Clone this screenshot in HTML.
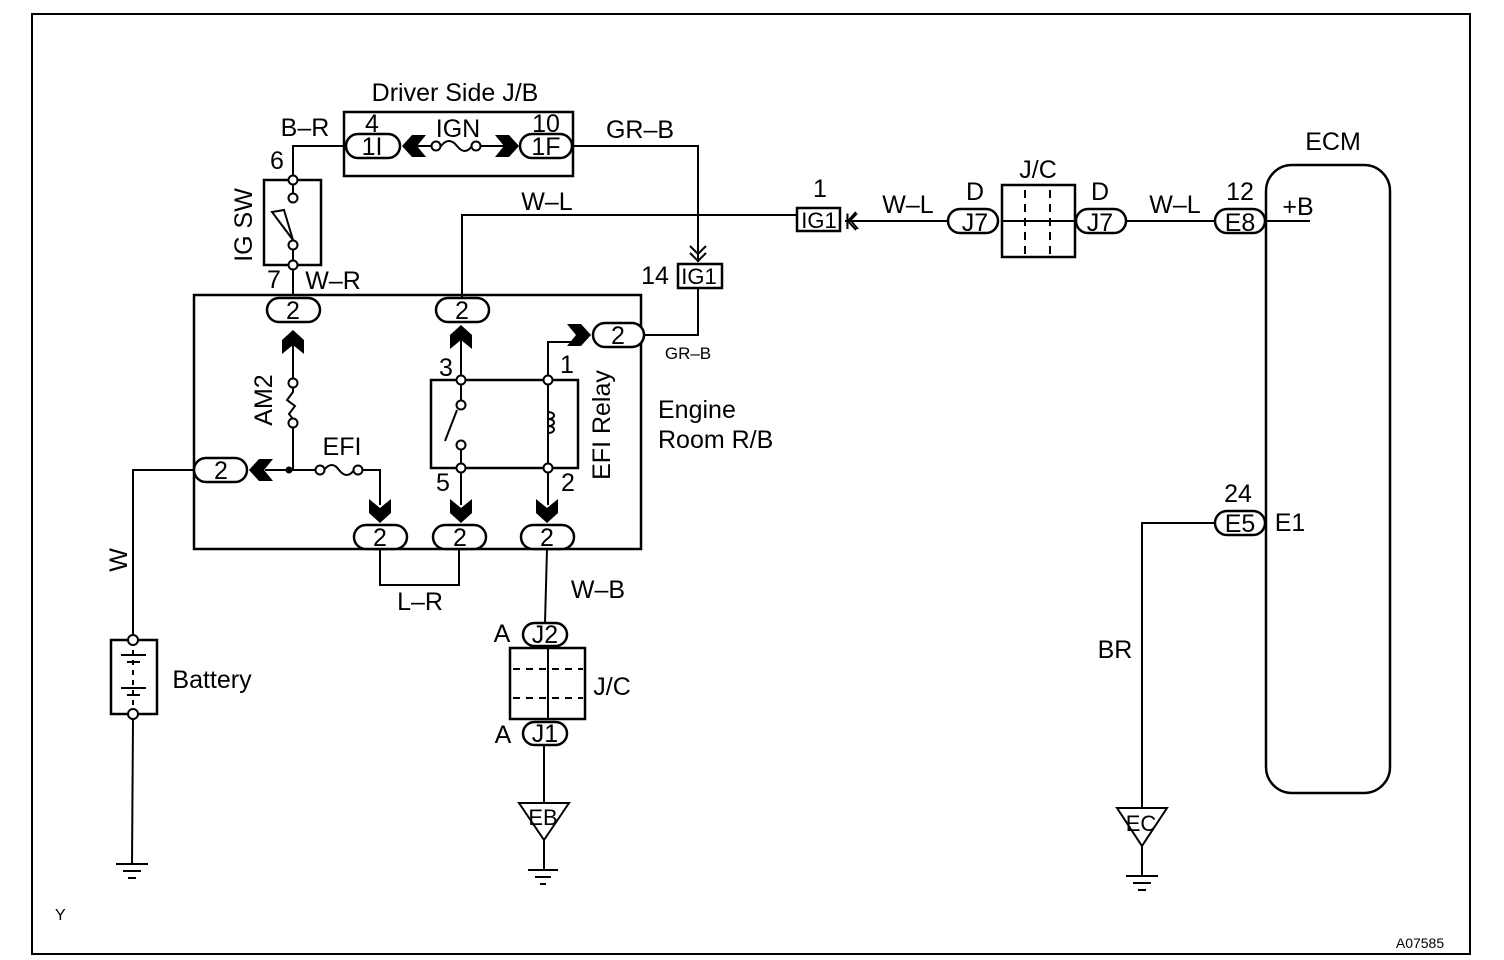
<!DOCTYPE html>
<html><head><meta charset="utf-8"><style>
html,body{margin:0;padding:0;background:#fff}
svg{display:block}
text{font-family:"Liberation Sans",Arial,sans-serif;fill:#000}
</style></head><body>
<svg width="1504" height="960" viewBox="0 0 1504 960" xmlns="http://www.w3.org/2000/svg">
<defs>
<g id="chu"><polygon points="-11,10 0,0 11,10 11,24 0,15 -11,24" fill="#000"/></g>
</defs>
<rect x="32" y="14" width="1438" height="940" fill="none" stroke="#000" stroke-width="2"/>
<g stroke="#000" stroke-width="2" fill="none">
<rect x="344" y="112" width="229" height="64" stroke-width="2.5"/>
<rect x="346" y="134" width="54" height="24" rx="12" fill="#fff" stroke-width="2.5"/>
<rect x="520" y="134" width="52" height="24" rx="12" fill="#fff" stroke-width="2.5"/>
<line x1="410" y1="146" x2="431" y2="146"/>
<path d="M441,146 q8,-10 16,0 q8,10 15,0"/>
<line x1="481" y1="146" x2="505" y2="146"/>
<circle cx="436" cy="146" r="4.5" fill="#fff"/><circle cx="476" cy="146" r="4.5" fill="#fff"/>
<polyline points="345,146 293,146 293,180"/>
<rect x="264" y="180" width="57" height="85" stroke-width="2.5"/>
<line x1="293" y1="180" x2="293" y2="198"/>
<line x1="293" y1="245" x2="293" y2="295"/>
<path d="M272,212 L284,210 L293,240 Z"/>
<circle cx="293" cy="180" r="4.5" fill="#fff"/><circle cx="293" cy="198" r="4.5" fill="#fff"/>
<circle cx="293" cy="245" r="4.5" fill="#fff"/><circle cx="293" cy="265" r="4.5" fill="#fff"/>
<rect x="194" y="295" width="447" height="254" stroke-width="2.5"/>
<line x1="293" y1="340" x2="293" y2="383"/>
<path d="M293,388 l0,4 l-6,8 l8,6 l-6,8 l4,5"/>
<line x1="293" y1="423" x2="293" y2="470"/>
<circle cx="293" cy="383" r="4.5" fill="#fff"/><circle cx="293" cy="423" r="4.5" fill="#fff"/>
<line x1="265" y1="470" x2="316" y2="470"/>
<path d="M324,470 q8,-10 15,0 q8,10 15,0"/>
<polyline points="362,470 380,470 380,505"/>
<circle cx="289" cy="470" r="2.5" fill="#000"/>
<circle cx="320" cy="470" r="4.5" fill="#fff"/><circle cx="358" cy="470" r="4.5" fill="#fff"/>
<rect x="431" y="380" width="147" height="88" stroke-width="2.5"/>
<line x1="461" y1="340" x2="461" y2="402"/>
<line x1="457" y1="410" x2="445" y2="441"/>
<line x1="461" y1="445" x2="461" y2="505"/>
<polyline points="548,505 548,342 575,342"/>
<path d="M548,412 c8,0 8,7 0,7 c8,0 8,7 0,7 c8,0 8,7 0,7"/>
<circle cx="461" cy="380" r="4.5" fill="#fff"/><circle cx="548" cy="380" r="4.5" fill="#fff"/>
<circle cx="461" cy="405" r="4.5" fill="#fff"/><circle cx="461" cy="445" r="4.5" fill="#fff"/>
<circle cx="461" cy="468" r="4.5" fill="#fff"/><circle cx="548" cy="468" r="4.5" fill="#fff"/>
<polyline points="462,298 462,215 797,215"/>
<line x1="845" y1="221" x2="948" y2="221"/>
<path d="M856,212 l-8,9 l8,9"/>
<polyline points="573,146 698,146 698,262"/>
<path d="M690,246 l8,8 l8,-8 M690,253 l8,8 l8,-8"/>
<rect x="678" y="264" width="44" height="24" stroke-width="2.5"/>
<polyline points="698,288 698,335 644,335"/>
<g stroke-width="2.5">
<rect x="267" y="298" width="53" height="24" rx="12" fill="#fff"/>
<rect x="436" y="298" width="53" height="24" rx="12" fill="#fff"/>
<rect x="593" y="323" width="51" height="24" rx="12" fill="#fff"/>
<rect x="194" y="458" width="53" height="24" rx="12" fill="#fff"/>
<rect x="354" y="525" width="53" height="24" rx="12" fill="#fff"/>
<rect x="433" y="525" width="53" height="24" rx="12" fill="#fff"/>
<rect x="521" y="525" width="53" height="24" rx="12" fill="#fff"/>
</g>
<polyline points="380,549 380,585 459,585 459,549"/>
<line x1="547" y1="549" x2="545" y2="623"/>
<rect x="523" y="623" width="44" height="23" rx="11.5" fill="#fff" stroke-width="2.5"/>
<rect x="510" y="648" width="75" height="71" stroke-width="2.5"/>
<line x1="548" y1="648" x2="548" y2="719"/>
<line x1="513" y1="669" x2="583" y2="669" stroke-dasharray="7,6"/>
<line x1="513" y1="698" x2="583" y2="698" stroke-dasharray="7,6"/>
<rect x="523" y="722" width="44" height="23" rx="11.5" fill="#fff" stroke-width="2.5"/>
<line x1="544" y1="745" x2="544" y2="803"/>
<polygon points="519,803 569,803 544,840"/>
<line x1="544" y1="840" x2="544" y2="870"/>
<line x1="528" y1="870" x2="558" y2="870"/><line x1="535" y1="877" x2="551" y2="877"/><line x1="540" y1="884" x2="546" y2="884"/>
<polyline points="194,470 133,470 133,636"/>
<rect x="111" y="640" width="46" height="74" stroke-width="2.5"/>
<line x1="133" y1="640" x2="133" y2="714" stroke-dasharray="5,5"/>
<line x1="121" y1="655" x2="146" y2="655"/><line x1="127" y1="662" x2="140" y2="662"/>
<line x1="121" y1="688" x2="146" y2="688"/><line x1="127" y1="695" x2="140" y2="695"/>
<circle cx="133" cy="640" r="5" fill="#fff"/><circle cx="133" cy="714" r="5" fill="#fff"/>
<line x1="133" y1="719" x2="132" y2="864"/>
<line x1="116" y1="864" x2="148" y2="864"/><line x1="123" y1="871" x2="141" y2="871"/><line x1="128" y1="878" x2="136" y2="878"/>
<rect x="797" y="208" width="43" height="23" stroke-width="2.5"/>
<rect x="948" y="209" width="50" height="24" rx="12" fill="#fff" stroke-width="2.5"/>
<rect x="1002" y="185" width="73" height="72" stroke-width="2.5"/>
<line x1="1002" y1="221" x2="1075" y2="221"/>
<line x1="1025" y1="190" x2="1025" y2="254" stroke-dasharray="8,6"/>
<line x1="1050" y1="190" x2="1050" y2="254" stroke-dasharray="8,6"/>
<rect x="1076" y="209" width="50" height="24" rx="12" fill="#fff" stroke-width="2.5"/>
<line x1="1126" y1="221" x2="1215" y2="221"/>
<rect x="1215" y="209" width="50" height="24" rx="12" fill="#fff" stroke-width="2.5"/>
<rect x="1266" y="165" width="124" height="628" rx="26" stroke-width="2.5"/>
<line x1="1266" y1="221" x2="1310" y2="221"/>
<rect x="1215" y="511" width="50" height="24" rx="12" fill="#fff" stroke-width="2.5"/>
<polyline points="1215,523 1142,523 1142,808"/>
<polygon points="1117,808 1167,808 1142,846"/>
<line x1="1142" y1="846" x2="1142" y2="876"/>
<line x1="1126" y1="876" x2="1158" y2="876"/><line x1="1133" y1="883" x2="1151" y2="883"/><line x1="1138" y1="890" x2="1146" y2="890"/>
</g>
<use href="#chu" transform="translate(293,330)"/>
<use href="#chu" transform="translate(461,325)"/>
<use href="#chu" transform="translate(380,523) rotate(180)"/>
<use href="#chu" transform="translate(461,523) rotate(180)"/>
<use href="#chu" transform="translate(547,523) rotate(180)"/>
<use href="#chu" transform="translate(249,470) rotate(-90)"/>
<use href="#chu" transform="translate(402,146) rotate(-90)"/>
<use href="#chu" transform="translate(519,146) rotate(90)"/>
<use href="#chu" transform="translate(591,335) rotate(90)"/>
<g font-size="25" text-anchor="middle">
<text x="455" y="101">Driver Side J/B</text>
<text x="372" y="132">4</text><text x="546" y="132">10</text>
<text x="458" y="137">IGN</text>
<text x="372" y="155">1I</text><text x="546" y="155">1F</text>
<text x="305" y="136">B–R</text>
<text x="640" y="138">GR–B</text>
<text x="277" y="169">6</text><text x="274" y="288">7</text>
<text x="333" y="289">W–R</text>
<text x="547" y="210">W–L</text>
<text x="293" y="319">2</text><text x="462" y="319">2</text><text x="618" y="344">2</text>
<text x="221" y="479">2</text><text x="380" y="546">2</text><text x="460" y="546">2</text><text x="547" y="546">2</text>
<text x="342" y="455">EFI</text>
<text x="446" y="376">3</text><text x="567" y="373">1</text>
<text x="443" y="491">5</text><text x="568" y="491">2</text>
<text x="420" y="610">L–R</text><text x="598" y="598">W–B</text>
<text x="502" y="642">A</text><text x="503" y="743">A</text>
<text x="545" y="643">J2</text><text x="545" y="742">J1</text>
<text x="612" y="695">J/C</text>
<text x="212" y="688">Battery</text>
<text x="655" y="284">14</text>
<text x="820" y="197">1</text>
<text x="908" y="213">W–L</text>
<text x="975" y="200">D</text><text x="1100" y="200">D</text>
<text x="975" y="231">J7</text><text x="1100" y="231">J7</text>
<text x="1038" y="178">J/C</text>
<text x="1175" y="213">W–L</text>
<text x="1240" y="200">12</text><text x="1240" y="231">E8</text>
<text x="1333" y="150">ECM</text>
<text x="1298" y="215">+B</text>
<text x="1238" y="502">24</text><text x="1240" y="532">E5</text>
<text x="1290" y="531">E1</text>
<text x="1115" y="658">BR</text>
</g>
<g font-size="22" text-anchor="middle">
<text x="699" y="284">IG1</text>
<text x="819" y="228">IG1</text>
<text x="852" y="229">K</text>
<text x="543" y="825">EB</text>
<text x="1141" y="831">EC</text>
</g>
<text x="688" y="359" font-size="17" text-anchor="middle">GR–B</text>
<text x="658" y="418" font-size="25">Engine</text>
<text x="658" y="448" font-size="25">Room R/B</text>
<text transform="translate(252,225) rotate(-90)" font-size="25" text-anchor="middle">IG SW</text>
<text transform="translate(272,400) rotate(-90)" font-size="25" text-anchor="middle">AM2</text>
<text transform="translate(610,425) rotate(-90)" font-size="25" text-anchor="middle">EFI Relay</text>
<text transform="translate(127,560) rotate(-90)" font-size="25" text-anchor="middle">W</text>
<text x="55" y="920" font-size="16">Y</text>
<text x="1420" y="948" font-size="14" text-anchor="middle">A07585</text>
</svg>
</body></html>
